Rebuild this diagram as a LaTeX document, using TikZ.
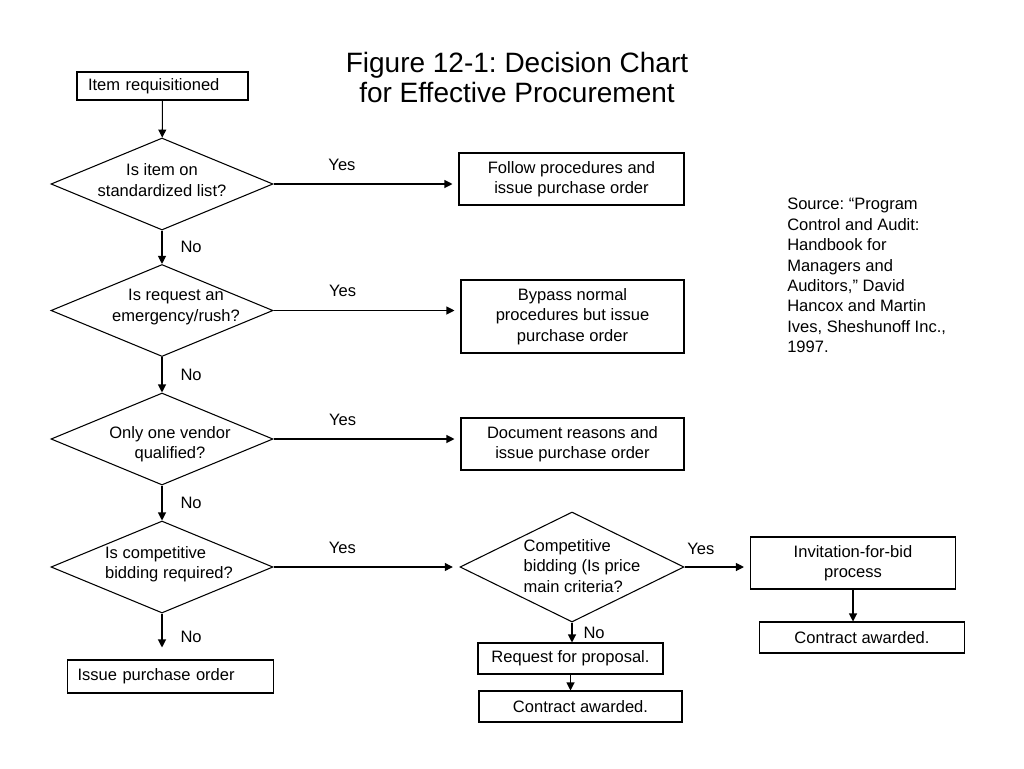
\documentclass[tikz,border=0pt]{standalone}
\usepackage{fontspec}
\setmainfont{Liberation Sans}
\usetikzlibrary{shapes.geometric,arrows.meta}
\frenchspacing
\begin{document}
\begin{tikzpicture}[x=0.75pt,y=-0.75pt,
    every node/.style={font=\fontsize{12.4}{15.3}\selectfont},
    box/.style={draw,rectangle,line width=0.8pt,inner sep=0pt,align=center},
    ask/.style={draw,diamond,line width=0.8pt,inner sep=0pt,minimum width=166.5pt,minimum height=69pt},
    asktext/.style={inner sep=0pt,align=center},
    flow/.style={-{Triangle[length=6pt,width=6pt]},line width=0.8pt},
    tag/.style={inner sep=0pt}]
    % page size
    \useasboundingbox (0,0) rectangle (1024,768);
    % title
    \node[font=\fontsize{21}{22.5}\selectfont,align=center] (title) at (517,77)
        {Figure 12-1: Decision Chart\\for Effective Procurement};
    % decision diamonds
    \node[ask] (q1) at (162,184) {};
    \node[ask] (q2) at (162,310.5) {};
    \node[ask] (q3) at (162,439) {};
    \node[ask] (q4) at (162,567) {};
    \node[ask,minimum width=168pt,minimum height=82.5pt] (q5) at (572,567) {};
    % diamond texts
    \node[asktext] (q1txt) at (162,180) {Is item on\\standardized list?};
    \node[asktext] (q2txt) at (176,307) {Is request an\\emergency/rush?};
    \node[asktext] (q3txt) at (170,444) {Only one vendor\\qualified?};
    \node[asktext,align=left] (q4txt) at (169,564) {Is competitive\\bidding required?};
    \node[asktext,align=left] (q5txt) at (582,566) {Competitive\\bidding (Is price\\main criteria?};
    % start and end boxes
    \node[box,text width=111.75pt,inner xsep=8.25pt,align=left,minimum height=21pt] (req) at (162.5,86) {Item requisitioned};
    \node[box,text width=139.5pt,inner xsep=7.5pt,align=left,minimum height=24.75pt] (ipo) at (170.5,676.5) {Issue purchase order};
    % action boxes
    \node[box,minimum width=168.75pt,minimum height=39pt] (yes1) at (571.5,179) {Follow procedures and\\issue purchase order};
    \node[box,minimum width=167.25pt,minimum height=54.75pt] (yes2) at (572.5,316.5) {Bypass normal\\procedures but issue\\purchase order};
    \node[box,minimum width=167.25pt,minimum height=39pt] (yes3) at (572.5,444) {Document reasons and\\issue purchase order};
    \node[box,minimum width=153.75pt,minimum height=39pt] (ifb) at (853,563) {Invitation-for-bid\\process};
    \node[box,minimum width=153.75pt,minimum height=23.25pt] (ca1) at (862,637.5) {Contract awarded.};
    \node[box,minimum width=138.75pt,minimum height=23.25pt] (rfp) at (570.5,658.5) {Request for proposal.};
    \node[box,minimum width=152.25pt,minimum height=23.25pt] (ca2) at (580.5,706.5) {Contract awarded.};
    % source note
    \node[anchor=north west,align=left,inner sep=0pt] (src) at (787,198)
        {Source: “Program\\Control and Audit:\\Handbook for\\Managers and\\Auditors,” David\\Hancox and Martin\\Ives, Sheshunoff Inc.,\\1997.};
    % main column
    \draw[flow] (req) -- (q1);
    \draw[flow] (q1) -- node[tag,right=13.5pt] {No} (q2);
    \draw[flow] (q2) -- node[tag,right=13.5pt] {No} (q3);
    \draw[flow] (q3) -- node[tag,right=13.5pt] {No} (q4);
    \draw[flow,shorten >=9pt] (q4.south) -- node[tag,right=13.5pt] {No} (q4.south |- ipo.north);
    % yes branches
    \draw[flow,shorten >=4.5pt] (q1.east) -- node[tag,above=9.75pt,pos=0.37] {Yes} (q1.east -| yes1.west);
    \draw[flow,shorten >=4.5pt] (q2.east) -- node[tag,above=9.75pt,pos=0.37] {Yes} (q2.east -| yes2.west);
    \draw[flow,shorten >=4.5pt] (q3.east) -- node[tag,above=9.75pt,pos=0.37] {Yes} (q3.east -| yes3.west);
    \draw[flow,shorten >=5pt] (q4.east) -- node[tag,above=9.75pt,pos=0.37] {Yes} (q5.west);
    % bidding branch
    \draw[flow,shorten >=4.5pt] (q5.east) -- node[tag,above=9pt,pos=0.25] {Yes} (q5.east -| ifb.west);
    \draw[flow] (ifb.south) -- (ifb.south |- ca1.north);
    \draw[flow] (q5.south) -- node[tag,right=8.25pt] {No} (q5.south |- rfp.north);
    \draw[flow] (rfp.south) -- (rfp.south |- ca2.north);
\end{tikzpicture}
\end{document}
